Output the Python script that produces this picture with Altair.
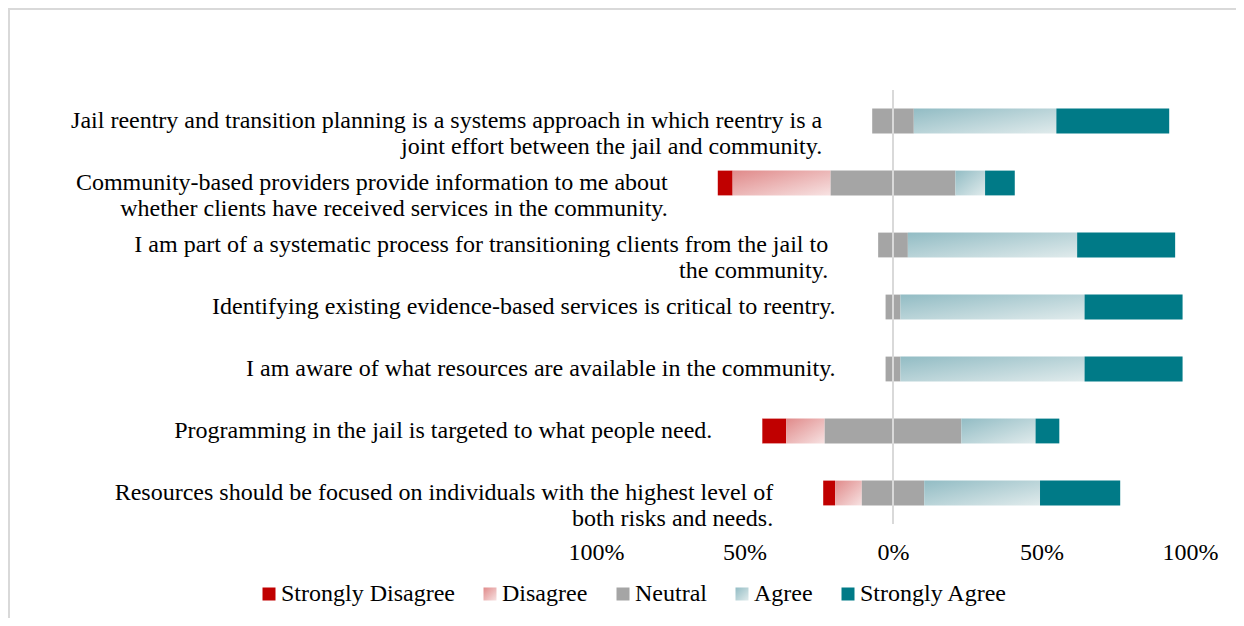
import altair as alt
import pandas as pd

categories = [
    "Jail reentry and transition planning is a systems approach in which reentry is a\njoint effort between the jail and community.",
    "Community-based providers provide information to me about\nwhether clients have received services in the community.",
    "I am part of a systematic process for transitioning clients from the jail to\nthe community.",
    "Identifying existing evidence-based services is critical to reentry.",
    "I am aware of what resources are available in the community.",
    "Programming in the jail is targeted to what people need.",
    "Resources should be focused on individuals with the highest level of\nboth risks and needs.",
]
strongly_disagree = [0, 5, 0, 0, 0, 8, 4]
disagree = [0, 33, 0, 0, 0, 13, 9]
neutral = [14, 42, 10, 5, 5, 46, 21]
agree = [48, 10, 57, 62, 62, 25, 39]
strongly_agree = [38, 10, 33, 33, 33, 8, 27]
responses = ["Strongly Disagree", "Disagree", "Neutral", "Agree", "Strongly Agree"]
tick_values = [-100, -50, 0, 50, 100]

rows = []
label_rows = []
for i, cat in enumerate(categories):
    vals = [strongly_disagree[i], disagree[i], neutral[i], agree[i], strongly_agree[i]]
    start = -(vals[0] + vals[1] + vals[2] / 2)
    label_rows.append({"category": cat, "left": start})
    for k, (r, v) in enumerate(zip(responses, vals)):
        rows.append({"category": cat, "response": r, "start": start, "end": start + v, "order": k})
        start += v
bars = pd.DataFrame(rows)
labels = pd.DataFrame(label_rows)

W, H = 594, 434
PL, PT = 588, 82
PR = 1228 - PL - W
PB = 610 - PT - H
FONT = "Liberation Serif"
FS = 24

grad_dis = {"expr": "{gradient: 'linear', x1: 0, y1: 0, x2: 1, y2: 1, stops: [{offset: 0, color: '#e08a8a'}, {offset: 1, color: '#f7e2e2'}]}"}
grad_agr = {"expr": "{gradient: 'linear', x1: 0, y1: 0, x2: 1, y2: 1, stops: [{offset: 0, color: '#92bcc4'}, {offset: 1, color: '#e0ebec'}]}"}

color_scale = alt.Scale(
    domain=responses,
    range=["#C00000", grad_dis, "#A5A5A5", grad_agr, "#007A87"],
)

yscale = alt.Scale(domain=categories, paddingInner=0.6, paddingOuter=0.3)
xscale = alt.Scale(domain=[-100, 100], nice=False, zero=False)

bar_layer = alt.Chart(bars).mark_bar(strokeWidth=0).encode(
    y=alt.Y("category:N", scale=yscale, axis=None, sort=categories),
    x=alt.X(
        "start:Q",
        scale=xscale,
        title=None,
        axis=alt.Axis(
            values=tick_values,
            labelExpr="abs(datum.value) + '%'",
            domain=False,
            ticks=False,
            grid=False,
            labelFlush=False,
            labelOverlap=False,
            labelPadding=16,
            labelFont=FONT,
            labelFontSize=FS,
            labelColor="#000000",
        ),
    ),
    x2="end:Q",
    color=alt.Color(
        "response:N",
        scale=color_scale,
        sort=responses,
        title=None,
        legend=alt.Legend(
            orient="none",
            legendX=-339,
            legendY=492,
            direction="horizontal",
            symbolType="square",
            symbolSize=169,
            symbolStrokeWidth=0,
            labelFont=FONT,
            labelFontSize=FS,
            labelColor="#000000",
            labelOffset=0,
            columnPadding=23,
            padding=0,
            labelLimit=400,
        ),
    ),
    order="order:Q",
)

zero_rule = alt.Chart(pd.DataFrame({"v": [0]})).mark_rule(color="#D9D9D9", strokeWidth=2).encode(
    x=alt.X("v:Q", scale=xscale)
)

label_layer = alt.Chart(labels).mark_text(
    align="right",
    baseline="middle",
    dx=-50,
    font=FONT,
    fontSize=FS,
    color="#000000",
    lineBreak="\n",
    lineHeight=26,
).encode(
    y=alt.Y("category:N", scale=yscale, axis=None, sort=categories),
    x=alt.X("left:Q", scale=xscale),
    text="category:N",
)

frame_df = pd.DataFrame({"k": [0]})
frame_left = alt.Chart(frame_df).mark_rule(color="#D9D9D9", strokeWidth=2).encode(
    x=alt.value(-PL + 1), y=alt.value(-PT), y2=alt.value(H + PB)
)
frame_top = alt.Chart(frame_df).mark_rule(color="#D9D9D9", strokeWidth=2).encode(
    x=alt.value(-PL), x2=alt.value(W + PR), y=alt.value(-PT + 1)
)

chart = (
    alt.layer(frame_left, frame_top, bar_layer, zero_rule, label_layer)
    .properties(
        width=W,
        height=H,
        autosize=alt.AutoSizeParams(type="none"),
        padding={"left": PL, "top": PT, "right": PR, "bottom": PB},
        background="#ffffff",
    )
    .configure_view(stroke="transparent", strokeWidth=0)
)

chart.save("out.html", embed_options={"renderer": "svg", "actions": False})
